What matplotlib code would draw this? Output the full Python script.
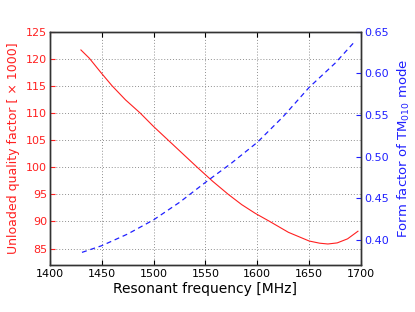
import matplotlib
matplotlib.use('Agg')
import matplotlib.pyplot as plt

# values
freq_q = [1430, 1438, 1449, 1460, 1473, 1487, 1500, 1514, 1528, 1542, 1557,
          1572, 1585, 1598, 1612, 1630, 1650, 1660, 1668, 1677, 1687, 1697]
q_factor = [121.6, 120.1, 117.5, 115.0, 112.4, 110.0, 107.5, 105.0, 102.5, 100.0, 97.4,
            95.0, 93.1, 91.5, 90.0, 88.0, 86.4, 86.0, 85.85, 86.05, 86.8, 88.2]

freq_ff = [1431, 1450, 1475, 1500, 1525, 1550, 1575, 1600, 1625, 1650, 1675, 1694]
form_factor = [0.385, 0.393, 0.407, 0.424, 0.445, 0.469, 0.492, 0.517, 0.548, 0.583, 0.612, 0.638]

xticks = [1400, 1450, 1500, 1550, 1600, 1650, 1700]
q_ticks = [85, 90, 95, 100, 105, 110, 115, 120, 125]
ff_ticks = [0.40, 0.45, 0.50, 0.55, 0.60, 0.65]

red = '#ff2020'
blue = '#2020ff'

fig = plt.figure(figsize=(4.15, 3.12), dpi=100)
ax1 = fig.add_axes([0.120, 0.151, 0.750, 0.748])
ax2 = ax1.twinx()

ax1.plot(freq_q, q_factor, color=red, lw=0.8)
ax2.plot(freq_ff, form_factor, color=blue, lw=0.9, linestyle=(0, (4, 3)))

ax1.set_xlim(1400, 1700)
ax1.set_ylim(82, 125)
ax2.set_ylim(0.37, 0.65)
ax1.set_xticks(xticks)
ax1.set_yticks(q_ticks)
ax2.set_yticks(ff_ticks)
ax2.set_yticklabels(['%.2f' % t for t in ff_ticks])

ax1.grid(True, linestyle=(0, (1, 2)), color='#909090', lw=0.7)
ax1.tick_params(axis='x', direction='in', labelsize=8, pad=3, top=True)
ax1.tick_params(axis='y', direction='in', labelsize=8, colors=red, pad=2)
ax2.tick_params(axis='y', direction='in', labelsize=8, colors=blue, pad=2)

ax1.set_xlabel('Resonant frequency [MHz]', fontsize=10, labelpad=2)
ax1.set_ylabel('Unloaded quality factor [ \u00d7 1000]', fontsize=9, color=red, labelpad=4)
ax2.set_ylabel('Form factor of TM$_{010}$ mode', fontsize=9.5, color=blue, labelpad=5)

for ax in (ax1, ax2):
    for sp in ax.spines.values():
        sp.set_color('#333333')
        sp.set_linewidth(1.0)

fig.savefig('out.png', dpi=100)
